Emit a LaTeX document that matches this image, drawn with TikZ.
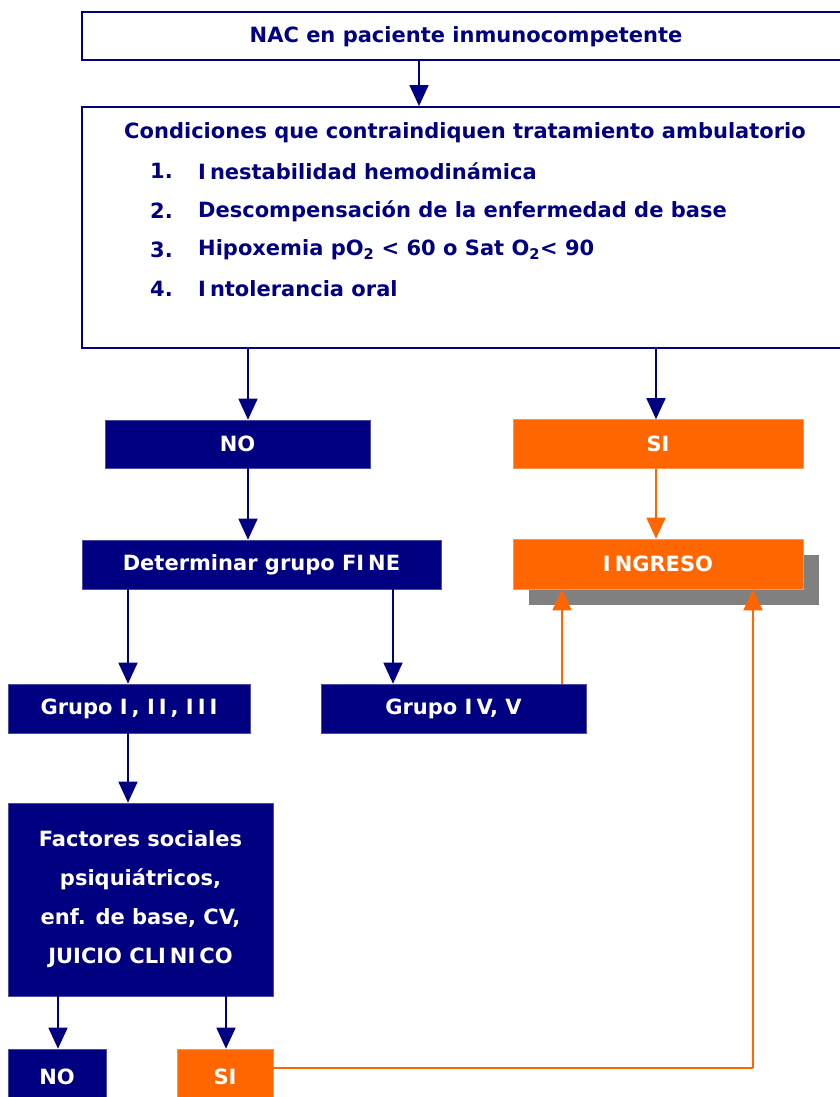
\documentclass[tikz,border=0pt]{standalone}
\usepackage{fontspec}
\setmainfont{DejaVu Sans}
\usetikzlibrary{arrows.meta,shadows}
\definecolor{navy}{HTML}{000080}
\definecolor{orng}{HTML}{FF6600}
\definecolor{shgray}{HTML}{808080}
\newcommand\Ik{I\kern4pt}
\tikzset{
  base/.style={font=\bfseries\fontsize{21}{25}\selectfont},
  outline/.style={draw=navy, line width=1.8pt, text=navy, rectangle, inner sep=0pt},
  navybox/.style={fill=navy, draw=navy!70!white, line width=0.6pt, text=white, rectangle, inner sep=0pt},
  orangebox/.style={fill=orng, draw=orng!70!white, line width=0.6pt, text=white, rectangle, inner sep=0pt},
  navyarrow/.style={draw=navy, line width=1.5pt, -{Triangle[width=19pt,length=21pt]}},
  orangearrow/.style={draw=orng, line width=1.5pt, -{Triangle[width=19pt,length=21pt]}},
  orangeline/.style={draw=orng, line width=1.5pt},
  txt/.style={text=navy, inner sep=0pt}
}
\begin{document}
\begin{tikzpicture}[x=1pt,y=-1pt,base]
\useasboundingbox (0,0) rectangle (839,1097);
% boxes
\node[outline, minimum width=768pt, minimum height=48pt] (top) at (466,36) {};
\node[txt] (toptext) at (466,37) {NAC en paciente inmunocompetente};
\node[outline, minimum width=768pt, minimum height=241pt] (big) at (466,227.5) {};
\node[txt] (title) at (465,133) {Condiciones que contraindiquen tratamiento ambulatorio};
\node[txt, anchor=west] (n1) at (150,171) {1.};
\node[txt, anchor=west] (i1) at (198,171) {\Ik nestabilidad hemodinámica};
\node[txt, anchor=west] (n2) at (150,211) {2.};
\node[txt, anchor=west] (i2) at (198,211) {Descompensación de la enfermedad de base};
\node[txt, anchor=west] (n3) at (150,250) {3.};
\node[txt, anchor=west] (i3) at (198,250) {Hipoxemia pO\textsubscript{2} < 60 o Sat O\textsubscript{2}< 90};
\node[txt, anchor=west] (n4) at (150,289) {4.};
\node[txt, anchor=west] (i4) at (198,289) {\Ik ntolerancia oral};

\node[navybox, minimum width=265pt, minimum height=48pt] (no1) at (237.5,444) {NO};
\node[orangebox, minimum width=290pt, minimum height=49pt] (si1) at (658,444) {SI};
\node[orangebox, minimum width=290pt, minimum height=50pt,
      drop shadow={shadow xshift=16pt, shadow yshift=-16pt, fill=shgray, opacity=1}] (ing) at (658,564) {\Ik NGRESO};
\node[navybox, minimum width=359pt, minimum height=49pt] (fine) at (261.5,564.5) {Determinar grupo F\Ik NE};
\node[navybox, minimum width=242pt, minimum height=49pt] (g1) at (129,708.5) {Grupo \Ik, \Ik\Ik, \Ik\Ik I};
\node[navybox, minimum width=265pt, minimum height=49pt] (g4) at (453.5,708.5) {Grupo \Ik V, V};
\node[navybox, minimum width=265pt, minimum height=193pt, align=center, font=\bfseries\fontsize{21}{39}\selectfont] (fac) at (140.5,899.5)
  {Factores sociales\\psiquiátricos,\\enf. de base, CV,\\JUICIO CL\Ik N\Ik CO};
\node[navybox, minimum width=98pt, minimum height=56pt] (no2) at (57,1077) {NO};
\node[orangebox, minimum width=96pt, minimum height=56pt] (si2) at (225,1077) {SI};

% column coordinates
\coordinate (x419) at (419,0);
\coordinate (x248) at (248,0);
\coordinate (x656) at (656,0);
\coordinate (x128) at (128,0);
\coordinate (x393) at (393,0);
\coordinate (x562) at (562,0);
\coordinate (x58) at (58,0);
\coordinate (x226) at (226,0);
\coordinate (x753) at (753,0);
\coordinate (corner) at (753,1068);
\coordinate (y1068) at (0,1068);

% connectors
\draw[navyarrow] (top.south -| x419) -- (big.north -| x419);
\draw[navyarrow] (big.south -| x248) -- (no1.north -| x248);
\draw[navyarrow] (big.south -| x656) -- (si1.north -| x656);
\draw[orangearrow] (si1.south -| x656) -- (ing.north -| x656);
\draw[navyarrow] (no1.south -| x248) -- (fine.north -| x248);
\draw[navyarrow] (fine.south -| x128) -- (g1.north -| x128);
\draw[navyarrow] (fine.south -| x393) -- (g4.north -| x393);
\draw[orangearrow] (g4.north -| x562) -- (ing.south -| x562);
\draw[navyarrow] (g1.south -| x128) -- (fac.north -| x128);
\draw[navyarrow] (fac.south -| x58) -- (no2.north -| x58);
\draw[navyarrow] (fac.south -| x226) -- (si2.north -| x226);
\draw[orangeline] (si2.east |- y1068) -- (corner);
\draw[orangearrow] (corner) -- (ing.south -| x753);
\end{tikzpicture}
\end{document}
